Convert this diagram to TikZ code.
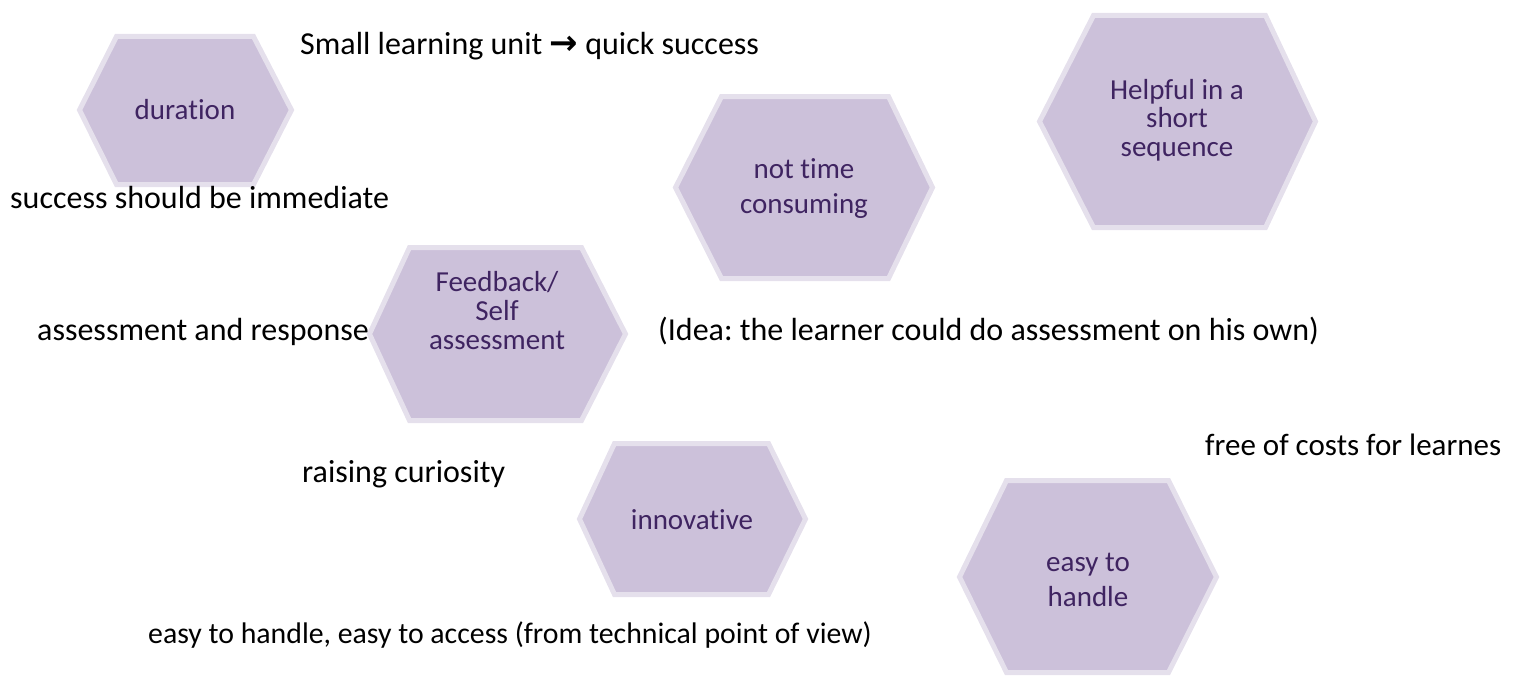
\documentclass[tikz,border=0pt]{standalone}
\usepackage{fontspec}
\setmainfont{Carlito}[Ligatures=NoCommon]
\newfontfamily\symfont{DejaVu Sans}
\definecolor{hexfill}{HTML}{CCC1DA}
\definecolor{hexline}{HTML}{E5E0EC}
\definecolor{hextxt}{HTML}{3F2461}
\frenchspacing

\begin{document}
\begin{tikzpicture}[x=1pt,y=-1pt,
   hexa/.style={fill=hexfill,draw=hexline,line width=5pt},
   hextext/.style={text=hextxt,align=center,inner sep=0pt,font=\fontsize{29}{35}\selectfont},
   note/.style={anchor=base west,inner sep=0pt,font=\fontsize{32}{38}\selectfont}]
            \useasboundingbox (0,0) rectangle (1514,677);

            \draw [hexa] 
               (79.5,110) -- (116.5,36.5) -- (253.5,36.5) -- (291.5,110)
               -- (253.5,184.5) -- (116.5,184.5) -- cycle;
            \draw [hexa] 
               (675.5,187.5) -- (721.5,96.5) -- (888.5,96.5) -- (932.5,187.5)
               -- (888.5,278.5) -- (721.5,278.5) -- cycle;
            \draw [hexa] 
               (1039.5,121.5) -- (1093.5,15.5) -- (1265.5,15.5) -- (1315.5,121.5)
               -- (1265.5,227.5) -- (1093.5,227.5) -- cycle;
            \draw [hexa] 
               (369.5,334) -- (409.5,247.5) -- (581.5,247.5) -- (625.5,334)
               -- (581.5,420.5) -- (409.5,420.5) -- cycle;
            \draw [hexa] 
               (579.5,519) -- (614.5,443.5) -- (768.5,443.5) -- (805.5,519)
               -- (768.5,594.5) -- (614.5,594.5) -- cycle;
            \draw [hexa] 
               (959.5,577) -- (1006.5,480.5) -- (1168.5,480.5) -- (1216.5,577)
               -- (1168.5,672.5) -- (1006.5,672.5) -- cycle;

            \node [hextext] (dur) at (185,110) {duration};
            \node [hextext] (notime) at (804,189) {not time\\consuming};
            \node [hextext,font=\fontsize{29}{28.5}\selectfont] (helpful) at (1177,120)
               {Helpful in a\\short\\sequence};
            \node [hextext,font=\fontsize{29}{29}\selectfont] (feedback) at (497,311)
               {Feedback/\\Self\\assessment};
            \node [hextext] (innov) at (692,520) {innovative};
            \node [hextext] (easy) at (1088,580) {easy to\\handle};

            \node [note] (quick) at (300,55)
               {Small learning unit {\symfont\bfseries\fontsize{34}{38}\selectfont →} quick success};
            \node [note] (immediate) at (10,208) {success should be immediate};
            \node [note] (response) at (37,340) {assessment and response};
            \node [note] (idea) at (658,340)
               {(Idea: the learner could do assessment on his own)};
            \node [note,font=\fontsize{31}{37}\selectfont] (costs) at (1205,455)
               {free of costs for learnes};
            \node [note] (curiosity) at (302,482) {raising curiosity};
            \node [note,font=\fontsize{29.8}{36}\selectfont] (access) at (148,643)
               {easy to handle, easy to access (from technical point of view)};
         \end{tikzpicture}
\end{document}
